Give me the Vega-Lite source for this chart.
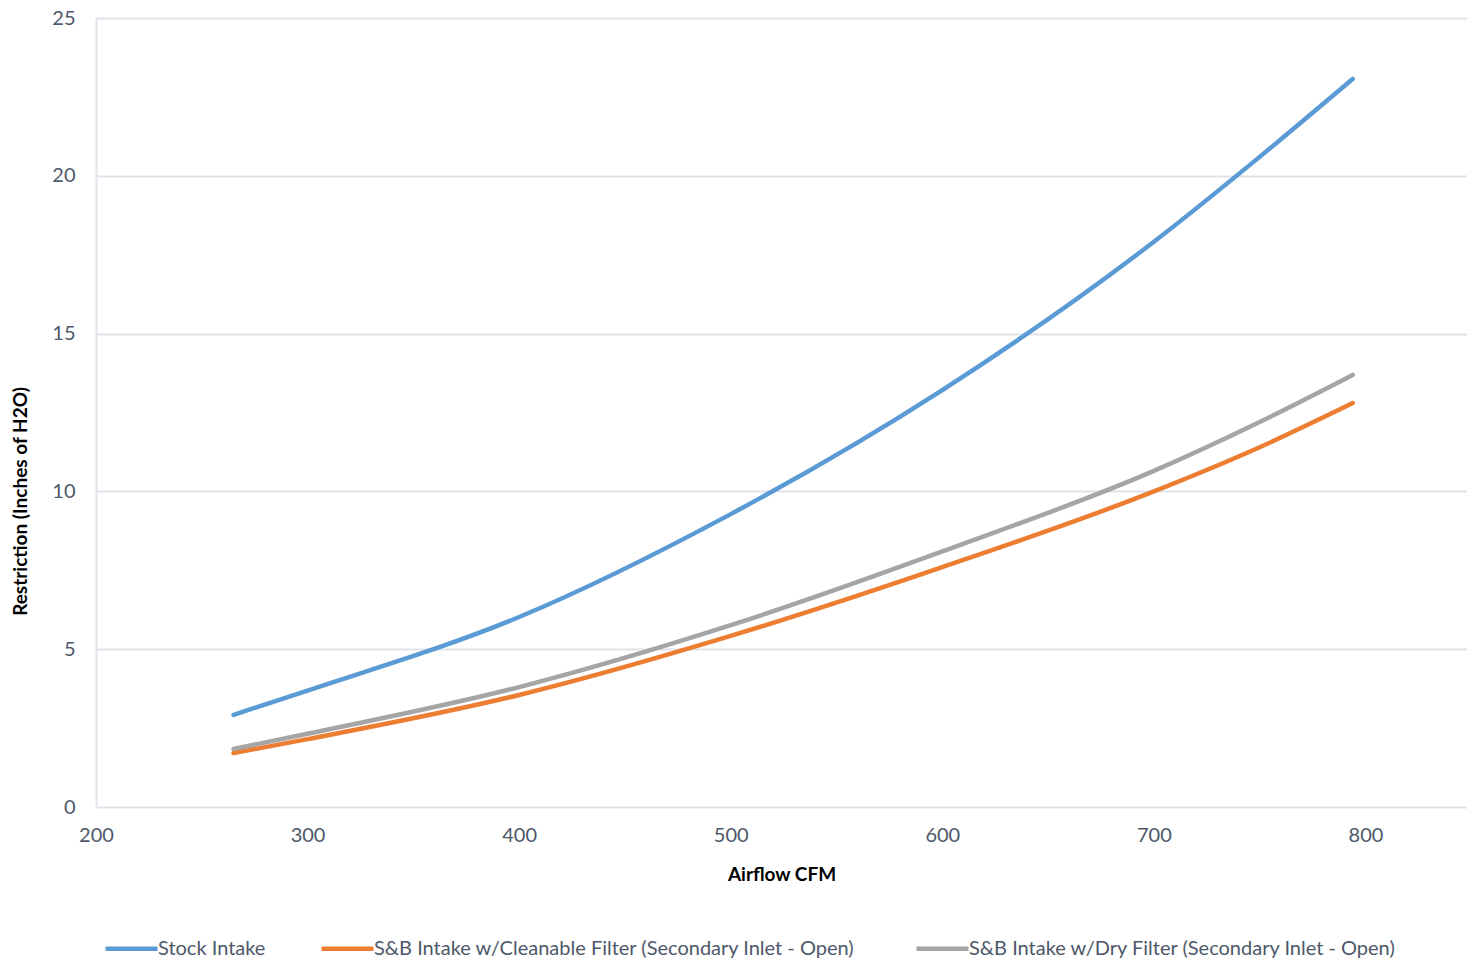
{
  "$schema": "https://vega.github.io/schema/vega-lite/v6.json",
  "autosize": {"type": "none"},
  "padding": {"left": 96, "top": 18, "right": 0, "bottom": 153},
  "width": 1371,
  "height": 789,
  "background": "white",
  "config": {
    "view": {"stroke": null},
    "font": "Lato",
    "axis": {"labelFont": "Lato", "titleFont": "Lato"},
    "legend": {"labelFont": "Lato"}
  },
  "data": {
    "values": [
      {"series": "Stock Intake", "cfm": 265, "restriction": 2.92},
      {"series": "Stock Intake", "cfm": 300, "restriction": 3.69},
      {"series": "Stock Intake", "cfm": 400, "restriction": 6.02},
      {"series": "Stock Intake", "cfm": 500, "restriction": 9.28},
      {"series": "Stock Intake", "cfm": 600, "restriction": 13.21},
      {"series": "Stock Intake", "cfm": 700, "restriction": 17.91},
      {"series": "Stock Intake", "cfm": 750, "restriction": 20.6},
      {"series": "Stock Intake", "cfm": 794, "restriction": 23.07},
      {"series": "S&B Intake w/Cleanable  Filter (Secondary Inlet - Open)", "cfm": 265, "restriction": 1.71},
      {"series": "S&B Intake w/Cleanable  Filter (Secondary Inlet - Open)", "cfm": 300, "restriction": 2.15},
      {"series": "S&B Intake w/Cleanable  Filter (Secondary Inlet - Open)", "cfm": 400, "restriction": 3.55},
      {"series": "S&B Intake w/Cleanable  Filter (Secondary Inlet - Open)", "cfm": 500, "restriction": 5.42},
      {"series": "S&B Intake w/Cleanable  Filter (Secondary Inlet - Open)", "cfm": 600, "restriction": 7.6},
      {"series": "S&B Intake w/Cleanable  Filter (Secondary Inlet - Open)", "cfm": 700, "restriction": 10.0},
      {"series": "S&B Intake w/Cleanable  Filter (Secondary Inlet - Open)", "cfm": 750, "restriction": 11.4},
      {"series": "S&B Intake w/Cleanable  Filter (Secondary Inlet - Open)", "cfm": 794, "restriction": 12.8},
      {"series": "S&B Intake w/Dry Filter (Secondary Inlet - Open)", "cfm": 265, "restriction": 1.84},
      {"series": "S&B Intake w/Dry Filter (Secondary Inlet - Open)", "cfm": 300, "restriction": 2.32},
      {"series": "S&B Intake w/Dry Filter (Secondary Inlet - Open)", "cfm": 400, "restriction": 3.8},
      {"series": "S&B Intake w/Dry Filter (Secondary Inlet - Open)", "cfm": 500, "restriction": 5.76},
      {"series": "S&B Intake w/Dry Filter (Secondary Inlet - Open)", "cfm": 600, "restriction": 8.1},
      {"series": "S&B Intake w/Dry Filter (Secondary Inlet - Open)", "cfm": 700, "restriction": 10.65},
      {"series": "S&B Intake w/Dry Filter (Secondary Inlet - Open)", "cfm": 750, "restriction": 12.2},
      {"series": "S&B Intake w/Dry Filter (Secondary Inlet - Open)", "cfm": 794, "restriction": 13.69}
    ]
  },
  "mark": {"type": "line", "interpolate": "monotone", "strokeWidth": 4.5, "strokeCap": "round", "strokeJoin": "round"},
  "encoding": {
    "x": {
      "field": "cfm",
      "type": "quantitative",
      "scale": {"domain": [200, 848], "nice": false, "zero": false},
      "axis": {
        "title": "Airflow CFM",
        "values": [200, 300, 400, 500, 600, 700, 800],
        "grid": false,
        "ticks": false,
        "domain": false,
        "labelFlush": false,
        "labelFontSize": 20,
        "labelColor": "#4d586a",
        "labelPadding": 18,
        "titleFontSize": 19,
        "titleFontWeight": "bold",
        "titleColor": "#000000",
        "titleY": 67,
        "titleBaseline": "middle"
      }
    },
    "y": {
      "field": "restriction",
      "type": "quantitative",
      "scale": {"domain": [0, 25], "nice": false},
      "axis": {
        "title": "Restriction (Inches of H2O)",
        "values": [0, 5, 10, 15, 20, 25],
        "grid": true,
        "gridColor": "#dfe3ea",
        "gridWidth": 2,
        "domain": true,
        "domainColor": "#dfe3ea",
        "domainWidth": 2,
        "ticks": false,
        "labelFlush": false,
        "labelFontSize": 20,
        "labelColor": "#4d586a",
        "labelPadding": 21,
        "titleFontSize": 19,
        "titleFontWeight": "bold",
        "titleColor": "#000000",
        "titleX": -76,
        "titleY": 483,
        "titleBaseline": "middle"
      }
    },
    "color": {
      "field": "series",
      "type": "nominal",
      "scale": {
        "domain": ["Stock Intake", "S&B Intake w/Cleanable  Filter (Secondary Inlet - Open)", "S&B Intake w/Dry Filter (Secondary Inlet - Open)"],
        "range": ["#5B9BD5", "#ED7D31", "#A5A5A5"]
      },
      "legend": {
        "title": null,
        "orient": "none",
        "direction": "horizontal",
        "legendX": 7,
        "legendY": 902,
        "symbolType": "stroke",
        "symbolSize": 2704,
        "symbolStrokeWidth": 4.5,
        "labelFontSize": 20,
        "labelColor": "#4d586a",
        "labelOffset": -2,
        "columnPadding": 46,
        "labelLimit": 700
      }
    }
  }
}
